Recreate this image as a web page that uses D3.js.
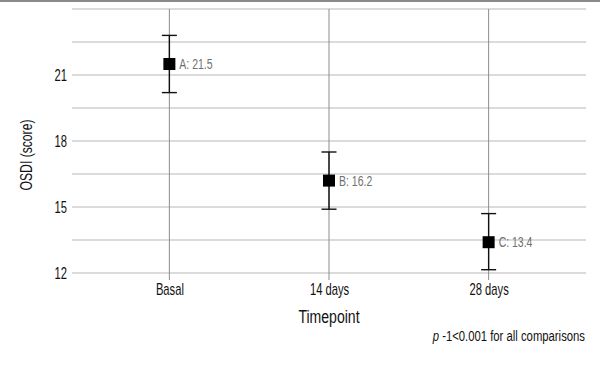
<!DOCTYPE html>
<html>
<head>
<meta charset="utf-8">
<script src="https://cdn.jsdelivr.net/npm/d3@7"></script>
<style>
  body { margin: 0; background: #fff; }
  svg { font-family: "Liberation Sans", Arial, sans-serif; }
</style>
</head>
<body>
<svg id="chart" width="600" height="370"></svg>
<script>
// data
const categories = ["Basal", "14 days", "28 days"]
const labels = ["A", "B", "C"]
const means = [21.5, 16.2, 13.4]
const lower = [20.2, 14.9, 12.15]
const upper = [22.8, 17.5, 14.7]
const yTicks = [12, 15, 18, 21]
const yGrid = [12, 13.5, 15, 16.5, 18, 19.5, 21, 22.5, 24]

const width = 600
const height = 370
const margin = { top: 9, right: 14, bottom: 97, left: 72 }
const narrow = 0.7   // the original uses a condensed face

const svg = d3.select("#chart")

// top border
svg.append("line")
  .attr("x1", 0).attr("x2", width)
  .attr("y1", 1).attr("y2", 1)
  .attr("stroke", "#8a8a8a")
  .attr("stroke-width", 2)

const xScale = d3.scalePoint()
  .domain(categories)
  .range([margin.left, width - margin.right])
  .padding(0.61)

const yScale = d3.scaleLinear()
  .domain([12, 24])
  .range([height - margin.bottom, margin.top])

// horizontal grid
svg.append("g")
  .selectAll("line")
  .data(yGrid)
  .join("line")
  .attr("x1", margin.left)
  .attr("x2", width - margin.right)
  .attr("y1", d => yScale(d))
  .attr("y2", d => yScale(d))
  .attr("stroke", "#b8b8b8")
  .attr("stroke-width", 1.2)

// vertical grid at categories
svg.append("g")
  .selectAll("line")
  .data(categories)
  .join("line")
  .attr("x1", d => xScale(d))
  .attr("x2", d => xScale(d))
  .attr("y1", yScale(24))
  .attr("y2", yScale(12) + 7)
  .attr("stroke", "#8c8c8c")
  .attr("stroke-width", 1)

// y axis labels
const yAxis = svg.append("g")
  .attr("transform", `translate(${margin.left}, 0)`)
  .call(d3.axisLeft(yScale).tickValues(yTicks).tickSize(0).tickPadding(5))
yAxis.select(".domain").remove()
yAxis.selectAll("text")
  .attr("font-size", 16)
  .attr("fill", "#111")
  .attr("font-family", "inherit")
  .attr("transform", `scale(${narrow},1)`)
  .attr("x", -5 / narrow)

// x axis labels
const xAxis = svg.append("g")
  .attr("transform", `translate(0, ${yScale(12)})`)
  .call(d3.axisBottom(xScale).tickSize(0).tickPadding(11))
xAxis.select(".domain").remove()
xAxis.selectAll("text")
  .attr("font-size", 16)
  .attr("fill", "#111")
  .attr("font-family", "inherit")
  .attr("transform", `scale(${narrow},1)`)

// axis titles
svg.append("text")
  .attr("transform", `translate(32, ${yScale(18) + 14}) rotate(-90) scale(0.76,1)`)
  .attr("text-anchor", "middle")
  .attr("font-size", 16)
  .attr("fill", "#111")
  .text("OSDI (score)")

svg.append("text")
  .attr("transform", `translate(${xScale("14 days")}, 323) scale(0.76,1)`)
  .attr("text-anchor", "middle")
  .attr("font-size", 18.5)
  .attr("fill", "#111")
  .text("Timepoint")

const note = svg.append("text")
  .attr("transform", `translate(585, 341) scale(0.73,1)`)
  .attr("text-anchor", "end")
  .attr("font-size", 15.5)
  .attr("fill", "#111")
note.append("tspan").attr("font-style", "italic").text("p")
note.append("tspan").text(" -1<0.001 for all comparisons")

// error bars
const points = categories.map((c, i) => ({
  x: xScale(c),
  y: yScale(means[i]),
  lo: yScale(lower[i]),
  hi: yScale(upper[i]),
  label: `${labels[i]}: ${means[i]}`
}))

const g = svg.append("g")

g.selectAll(".whisker")
  .data(points)
  .join("line")
  .attr("class", "whisker")
  .attr("x1", d => d.x).attr("x2", d => d.x)
  .attr("y1", d => d.lo).attr("y2", d => d.hi)
  .attr("stroke", "#111")
  .attr("stroke-width", 1.4)

g.selectAll(".cap-top")
  .data(points)
  .join("line")
  .attr("class", "cap-top")
  .attr("x1", d => d.x - 7.5).attr("x2", d => d.x + 7.5)
  .attr("y1", d => d.hi).attr("y2", d => d.hi)
  .attr("stroke", "#111")
  .attr("stroke-width", 1.4)

g.selectAll(".cap-bottom")
  .data(points)
  .join("line")
  .attr("class", "cap-bottom")
  .attr("x1", d => d.x - 7.5).attr("x2", d => d.x + 7.5)
  .attr("y1", d => d.lo).attr("y2", d => d.lo)
  .attr("stroke", "#111")
  .attr("stroke-width", 1.4)

g.selectAll("rect")
  .data(points)
  .join("rect")
  .attr("x", d => d.x - 6)
  .attr("y", d => d.y - 6)
  .attr("width", 12)
  .attr("height", 12)
  .attr("fill", "#000")

g.selectAll(".pt-label")
  .data(points)
  .join("text")
  .attr("class", "pt-label")
  .attr("transform", d => `translate(${d.x + 10}, ${d.y + 5}) scale(${narrow},1)`)
  .attr("font-size", 15)
  .attr("fill", "#707070")
  .text(d => d.label)
</script>
</body>
</html>
